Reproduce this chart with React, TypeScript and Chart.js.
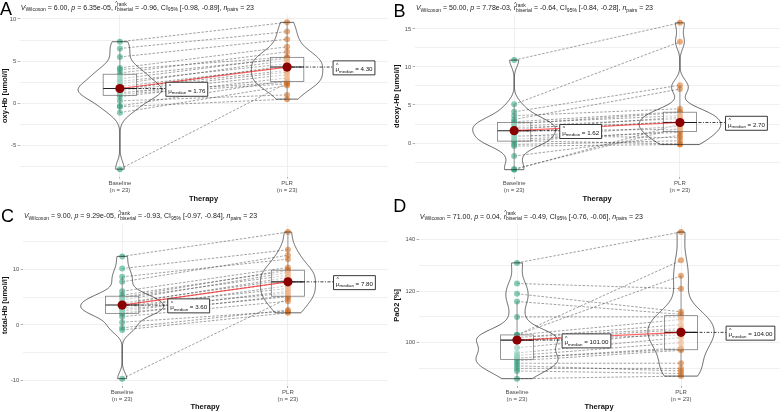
import React, { useEffect, useRef } from 'react';
import { Chart, registerables } from 'chart.js';

Chart.register(...registerables);

const FONT = "'Liberation Sans', Arial, sans-serif";

// ---------- data ----------
const conditions = ['Baseline', 'PLR'];
const groupSizes = ['(n = 23)', '(n = 23)'];
const xAxisTitle = 'Therapy';
const panelLetters = ['A', 'B', 'C', 'D'];
const yAxisTitles = ['oxy-Hb [umol/l]', 'deoxy-Hb [umol/l]', 'total-Hb [umol/l]', 'PaO2 [%]'];

// paired values (index = subject)
const oxyBaseline = [-7.8, -1.1, -0.4, -0.3, 0.3, 0.8, 1.1, 1.2, 1.3, 1.5, 1.6, 1.76, 2.0, 2.3, 2.6, 2.9, 3.3, 3.6, 4.0, 4.2, 5.5, 6.5, 7.3];
const oxyPLR = [2.4, 2.1, 0.5, 2.7, 1.0, 3.0, 2.3, 3.4, 2.5, 3.7, 4.5, 3.9, 4.3, 5.1, 4.7, 5.4, 5.3, 6.1, 5.5, 6.7, 7.6, 8.5, 9.6];

const deoxyBaseline = [-3.5, -3.4, -1.7, -0.4, -0.2, 0.2, 0.3, 0.5, 0.8, 1.0, 1.4, 1.62, 1.8, 2.0, 2.2, 2.5, 2.6, 2.8, 3.1, 3.6, 4.1, 5.1, 10.9];
const deoxyPLR = [2.5, 2.0, 1.0, -0.2, 0.3, 1.6, -0.1, 1.4, 2.2, 0.7, 2.9, 1.8, 3.4, 2.7, 3.2, 4.0, 3.6, 4.1, 7.1, 4.5, 7.6, 13.3, 15.8];

const totalBaseline = [-9.7, -0.9, -0.5, 0.5, 1.5, 2.0, 2.2, 2.5, 2.8, 3.0, 3.4, 3.6, 3.8, 4.0, 4.5, 4.9, 5.0, 5.4, 6.1, 7.8, 8.7, 10.2, 12.4];
const totalPLR = [4.8, 2.2, 2.7, 2.5, 4.3, 5.3, 5.1, 6.1, 5.8, 7.1, 6.6, 7.8, 8.6, 8.2, 9.5, 9.0, 10.0, 9.8, 10.4, 12.6, 11.9, 13.6, 16.8];

const pao2Baseline = [86, 89, 90, 91, 92, 93, 94, 94, 95, 96, 98, 101, 101, 102, 102, 103, 103, 103, 110, 116, 119, 123, 131];
const pao2PLR = [87, 88, 90, 89, 92, 97, 98, 97.5, 100, 102, 104, 103, 105, 107, 105.5, 126, 132, 109, 110, 111, 112, 121, 143];

const wilcoxonV = ['6.00', '50.00', '9.00', '71.00'];
const pValues = ['6.35e-05', '7.78e-03', '9.29e-05', '0.04'];
const rBiserial = ['-0.96', '-0.64', '-0.93', '-0.49'];
const ciLower = ['-0.98', '-0.84', '-0.97', '-0.76'];
const ciUpper = ['-0.89', '-0.28', '-0.84', '-0.06'];
const nPairs = ['23', '23', '23', '23'];
const yMajorSteps = [5, 5, 10, 20];

const baselineSeries = [oxyBaseline, deoxyBaseline, totalBaseline, pao2Baseline];
const plrSeries = [oxyPLR, deoxyPLR, totalPLR, pao2PLR];

// ---------- layout (positions / sizes) ----------
const layouts = [
  { col: 0, row: 0, left: 19.6, right: 4.3, top: 15, bottom: 3, xAxisH: 26.5, subY: 9.5 },
  { col: 1, row: 0, left: 22.7, right: 0.8, top: 15.5, bottom: 3, xAxisH: 26, subY: 10 },
  { col: 0, row: 1, left: 22.7, right: 2.7, top: 18.7, bottom: 0.5, xAxisH: 25.5, subY: 12 },
  { col: 1, row: 1, left: 26.6, right: 1, top: 18.7, bottom: 0.5, xAxisH: 25.5, subY: 12.5 },
];
const letterPos = [
  { left: 0, top: 0.4 },
  { left: 393.4, top: 1.7 },
  { left: 1, top: 207 },
  { left: 393.3, top: 197 },
];

const COLORS = {
  baseline: 'rgba(27,158,119,0.6)',
  plr: 'rgba(217,95,2,0.58)',
  median: '#8b0000',
  medianPath: 'rgba(255,0,0,0.6)',
  pairPath: 'rgba(70,70,70,0.75)',
  grid: '#ebebeb',
  tickText: '#4d4d4d',
};

// ---------- helpers ----------
function sortAsc(v: number[]) {
  return [...v].sort((a, b) => a - b);
}
function quantile(sorted: number[], q: number) {
  const pos = (sorted.length - 1) * q;
  const lo = Math.floor(pos);
  const hi = Math.ceil(pos);
  return sorted[lo] + (sorted[hi] - sorted[lo]) * (pos - lo);
}
function stdev(v: number[]) {
  const m = v.reduce((a, b) => a + b, 0) / v.length;
  return Math.sqrt(v.reduce((a, b) => a + (b - m) * (b - m), 0) / (v.length - 1));
}
function kdeCurve(values: number[], steps = 220) {
  const s = sortAsc(values);
  const n = s.length;
  const iqr = quantile(s, 0.75) - quantile(s, 0.25);
  let lo = Math.min(stdev(s), iqr / 1.34);
  if (!(lo > 0)) lo = stdev(s) || 1;
  const bw = 0.9 * lo * Math.pow(n, -0.2);
  const out: { y: number; d: number }[] = [];
  for (let i = 0; i < steps; i++) {
    const y = s[0] + ((s[n - 1] - s[0]) * i) / (steps - 1);
    let d = 0;
    for (const v of s) {
      const z = (y - v) / bw;
      d += Math.exp(-0.5 * z * z);
    }
    out.push({ y, d: d / (n * bw * Math.sqrt(2 * Math.PI)) });
  }
  return out;
}
function boxStats(values: number[]) {
  const s = sortAsc(values);
  const q1 = quantile(s, 0.25);
  const q3 = quantile(s, 0.75);
  const med = quantile(s, 0.5);
  const iqr = q3 - q1;
  const lowW = s.find((v) => v >= q1 - 1.5 * iqr) as number;
  const upW = [...s].reverse().find((v) => v <= q3 + 1.5 * iqr) as number;
  return { q1, q3, med, lowW, upW };
}

type Seg = { t: string; it?: boolean; hat?: boolean; sup?: string; sub?: string };
function drawRich(ctx: CanvasRenderingContext2D, x: number, y: number, segs: Seg[], size: number) {
  let cx = x;
  const small = size * 0.72;
  for (const s of segs) {
    ctx.font = `${s.it ? 'italic ' : ''}${size}px ${FONT}`;
    ctx.fillText(s.t, cx, y);
    const w = ctx.measureText(s.t).width;
    if (s.hat) {
      ctx.font = `${small}px ${FONT}`;
      const hw = ctx.measureText('^').width;
      ctx.fillText('^', cx + w / 2 - hw / 2 + 0.6, y - size * 0.62);
    }
    cx += w;
    ctx.font = `${small}px ${FONT}`;
    let sw = 0;
    if (s.sup) {
      ctx.fillText(s.sup, cx, y - size * 0.5);
      sw = Math.max(sw, ctx.measureText(s.sup).width);
    }
    if (s.sub) {
      ctx.fillText(s.sub, cx, y + size * 0.28);
      sw = Math.max(sw, ctx.measureText(s.sub).width);
    }
    cx += sw;
  }
  return cx - x;
}

function drawMedianLabel(ctx: CanvasRenderingContext2D, xLeft: number, yMid: number, valueText: string) {
  const main = 6.2;
  const small = 4.4;
  ctx.font = `${main}px ${FONT}`;
  const muW = ctx.measureText('μ').width;
  const restW = ctx.measureText(' = ' + valueText).width;
  ctx.font = `${small}px ${FONT}`;
  const subW = ctx.measureText('median').width;
  const padX = 2.4;
  const w = muW + subW + restW + padX * 2;
  const h = 14;
  const top = yMid - h / 2;
  ctx.save();
  ctx.fillStyle = '#ffffff';
  ctx.strokeStyle = '#222222';
  ctx.lineWidth = 0.9;
  ctx.setLineDash([]);
  ctx.beginPath();
  ctx.rect(xLeft, top, w, h);
  ctx.fill();
  ctx.stroke();
  ctx.fillStyle = '#111111';
  const base = top + 10.3;
  let x = xLeft + padX;
  ctx.font = `${main}px ${FONT}`;
  ctx.fillText('μ', x, base);
  ctx.font = `${small + 0.8}px ${FONT}`;
  const hw = ctx.measureText('^').width;
  ctx.fillText('^', x + muW / 2 - hw / 2, base - 4.6);
  x += muW;
  ctx.font = `${small}px ${FONT}`;
  ctx.fillText('median', x, base + 1.4);
  x += subW;
  ctx.font = `${main}px ${FONT}`;
  ctx.fillText(' = ' + valueText, x, base);
  ctx.restore();
}

const statsPlugin = {
  id: 'withinStats',
  beforeDatasetDraw(chart: any, args: any) {
    if (args.index !== 3) return;
    const spec = chart.options.plugins.withinStats;
    const { ctx } = chart;
    const xs = chart.scales.x;
    const ys = chart.scales.y;
    const groups = [spec.baseline, spec.plr];
    const curves = groups.map((g: number[]) => kdeCurve(g));
    const maxD = Math.max(...curves.flatMap((c: any[]) => c.map((p) => p.d)));
    ctx.save();
    // violins
    curves.forEach((c: any[], gi: number) => {
      const x0 = gi + 1;
      ctx.beginPath();
      c.forEach((p, i) => {
        const px = xs.getPixelForValue(x0 - (p.d / maxD) * 0.25);
        const py = ys.getPixelForValue(p.y);
        if (i === 0) ctx.moveTo(px, py);
        else ctx.lineTo(px, py);
      });
      for (let i = c.length - 1; i >= 0; i--) {
        const p = c[i];
        ctx.lineTo(xs.getPixelForValue(x0 + (p.d / maxD) * 0.25), ys.getPixelForValue(p.y));
      }
      ctx.closePath();
      ctx.fillStyle = 'rgba(255,255,255,0.12)';
      ctx.fill();
      ctx.strokeStyle = '#222222';
      ctx.lineWidth = 0.7;
      ctx.stroke();
    });
    // boxes
    groups.forEach((g: number[], gi: number) => {
      const x0 = gi + 1;
      const b = boxStats(g);
      const xl = xs.getPixelForValue(x0 - 0.1);
      const xr = xs.getPixelForValue(x0 + 0.1);
      const xc = xs.getPixelForValue(x0);
      const yq1 = ys.getPixelForValue(b.q1);
      const yq3 = ys.getPixelForValue(b.q3);
      ctx.strokeStyle = 'rgba(110,110,110,0.9)';
      ctx.lineWidth = 0.8;
      ctx.beginPath();
      ctx.moveTo(xc, yq3);
      ctx.lineTo(xc, ys.getPixelForValue(b.upW));
      ctx.moveTo(xc, yq1);
      ctx.lineTo(xc, ys.getPixelForValue(b.lowW));
      ctx.stroke();
      ctx.fillStyle = 'rgba(255,255,255,0.42)';
      ctx.fillRect(xl, yq3, xr - xl, yq1 - yq3);
      ctx.strokeRect(xl, yq3, xr - xl, yq1 - yq3);
      ctx.strokeStyle = '#222222';
      ctx.lineWidth = 1.1;
      ctx.beginPath();
      const ym = ys.getPixelForValue(b.med);
      ctx.moveTo(xl, ym);
      ctx.lineTo(xr, ym);
      ctx.stroke();
    });
    ctx.restore();
  },
  afterDatasetsDraw(chart: any) {
    const spec = chart.options.plugins.withinStats;
    const { ctx } = chart;
    const xs = chart.scales.x;
    const ys = chart.scales.y;
    [spec.baseline, spec.plr].forEach((g: number[], gi: number) => {
      const x0 = gi + 1;
      const med = quantile(sortAsc(g), 0.5);
      const px = xs.getPixelForValue(x0);
      const py = ys.getPixelForValue(med);
      const lx = xs.getPixelForValue(x0 + 0.275);
      ctx.save();
      ctx.strokeStyle = '#111111';
      ctx.lineWidth = 0.8;
      ctx.setLineDash([3, 1.5, 1, 1.5]);
      ctx.beginPath();
      ctx.moveTo(px + 4.5, py);
      ctx.lineTo(lx, py);
      ctx.stroke();
      ctx.restore();
      drawMedianLabel(ctx, lx, py + 0.8, med.toFixed(2));
    });
  },
  afterDraw(chart: any) {
    const spec = chart.options.plugins.withinStats;
    const { ctx } = chart;
    const i = spec.idx;
    ctx.save();
    ctx.fillStyle = '#1a1a1a';
    ctx.textBaseline = 'alphabetic';
    const segs: Seg[] = [
      { t: 'V', it: true, sub: 'Wilcoxon' },
      { t: ` = ${wilcoxonV[i]}, ` },
      { t: 'p', it: true },
      { t: ` = ${pValues[i]}, ` },
      { t: 'r', it: true, hat: true, sup: 'rank', sub: 'biserial' },
      { t: ` = ${rBiserial[i]}, CI`, sub: '95%' },
      { t: ` [${ciLower[i]}, ${ciUpper[i]}], ` },
      { t: 'n', it: true, sub: 'pairs' },
      { t: ` = ${nPairs[i]}` },
    ];
    drawRich(ctx, chart.chartArea.left + 1.2, spec.subY, segs, 7.0);
    ctx.restore();
  },
};

function Panel({ idx }: { idx: number }) {
  const ref = useRef<HTMLCanvasElement>(null);
  const lay = layouts[idx];
  useEffect(() => {
    const base = baselineSeries[idx];
    const plr = plrSeries[idx];
    const all = [...base, ...plr];
    const dMin = Math.min(...all);
    const dMax = Math.max(...all);
    const pad = (dMax - dMin) * 0.05;
    const major = yMajorSteps[idx];
    const minor = major / 2;
    const isMajor = (v: number) => Math.abs(v / major - Math.round(v / major)) < 1e-6;

    const pairData: any[] = [];
    base.forEach((b, k) => {
      pairData.push({ x: 1, y: b }, { x: 2, y: plr[k] }, { x: 1.5, y: null });
    });
    const medB = quantile(sortAsc(base), 0.5);
    const medP = quantile(sortAsc(plr), 0.5);

    const chart = new Chart(ref.current as HTMLCanvasElement, {
      type: 'scatter',
      data: {
        datasets: [
          {
            type: 'line',
            data: pairData,
            borderColor: COLORS.pairPath,
            borderWidth: 0.7,
            borderDash: [2.5, 1.6],
            pointRadius: 0,
            spanGaps: false,
            order: 5,
          } as any,
          {
            data: base.map((v) => ({ x: 1, y: v })),
            backgroundColor: COLORS.baseline,
            borderWidth: 0,
            pointRadius: 3,
            order: 4,
          },
          {
            data: plr.map((v) => ({ x: 2, y: v })),
            backgroundColor: COLORS.plr,
            borderWidth: 0,
            pointRadius: 3,
            order: 3,
          },
          {
            type: 'line',
            data: [
              { x: 1, y: medB },
              { x: 2, y: medP },
            ],
            borderColor: COLORS.medianPath,
            borderWidth: 1.2,
            pointRadius: 0,
            order: 2,
          } as any,
          {
            data: [
              { x: 1, y: medB },
              { x: 2, y: medP },
            ],
            backgroundColor: COLORS.median,
            borderWidth: 0,
            pointRadius: 4.6,
            order: 1,
          },
        ],
      },
      options: {
        responsive: false,
        animation: false,
        devicePixelRatio: 1,
        events: [],
        layout: { padding: { left: 0, right: lay.right, top: lay.top, bottom: lay.bottom } },
        plugins: {
          legend: { display: false },
          tooltip: { enabled: false },
          withinStats: { baseline: base, plr, idx, subY: lay.subY },
        } as any,
        scales: {
          x: {
            type: 'linear',
            min: 0.4,
            max: 2.6,
            afterBuildTicks: (axis: any) => {
              axis.ticks = [{ value: 1 }, { value: 2 }];
            },
            afterFit: (axis: any) => {
              axis.height = lay.xAxisH;
            },
            ticks: {
              autoSkip: false,
              maxRotation: 0,
              padding: 1,
              color: COLORS.tickText,
              font: { family: FONT, size: 6, lineHeight: 1.15 },
              callback: (v: any) => [conditions[Math.round(v) - 1], groupSizes[Math.round(v) - 1]],
            },
            grid: { color: COLORS.grid, lineWidth: 0.8, tickLength: 2, tickColor: '#777777', tickWidth: 0.6 },
            border: { display: false },
            title: {
              display: true,
              text: xAxisTitle,
              color: '#111111',
              font: { family: FONT, size: 7.5, weight: 'bold' },
              padding: 0,
            },
          },
          y: {
            type: 'linear',
            min: dMin - pad,
            max: dMax + pad,
            afterBuildTicks: (axis: any) => {
              const t: any[] = [];
              for (let v = Math.ceil(axis.min / minor) * minor; v <= axis.max + 1e-9; v += minor) {
                t.push({ value: Math.round(v * 1000) / 1000 });
              }
              axis.ticks = t;
            },
            afterFit: (axis: any) => {
              axis.width = lay.left;
            },
            ticks: {
              autoSkip: false,
              padding: 1.4,
              color: COLORS.tickText,
              font: { family: FONT, size: 5.8 },
              callback: (v: any) => (isMajor(v) ? String(v) : ''),
            },
            grid: {
              color: COLORS.grid,
              lineWidth: 0.8,
              tickLength: 2,
              tickWidth: 0.6,
              tickColor: (c: any) => (c.tick && isMajor(c.tick.value) ? '#777777' : 'rgba(0,0,0,0)'),
            },
            border: { display: false },
            title: {
              display: true,
              text: yAxisTitles[idx],
              color: '#111111',
              font: { family: FONT, size: 7.5, weight: 'bold' },
              padding: { top: 0.5, bottom: 0 },
            },
          },
        },
      } as any,
      plugins: [statsPlugin as any],
    });
    return () => chart.destroy();
  }, [idx]);
  return (
    <canvas
      ref={ref}
      width={392}
      height={206}
      style={{ position: 'absolute', left: lay.col * 392, top: lay.row * 206, width: 392, height: 206 }}
    />
  );
}

export default function App() {
  return (
    <div style={{ position: 'absolute', left: 0, top: 0, width: 784, height: 412, background: '#ffffff', overflow: 'hidden' }}>
      {[0, 1, 2, 3].map((i) => (
        <Panel key={i} idx={i} />
      ))}
      {panelLetters.map((l, i) => (
        <div
          key={l}
          style={{
            position: 'absolute',
            left: letterPos[i].left,
            top: letterPos[i].top,
            fontFamily: FONT,
            fontSize: 18,
            lineHeight: '18px',
            color: '#000000',
          }}
        >
          {l}
        </div>
      ))}
    </div>
  );
}
